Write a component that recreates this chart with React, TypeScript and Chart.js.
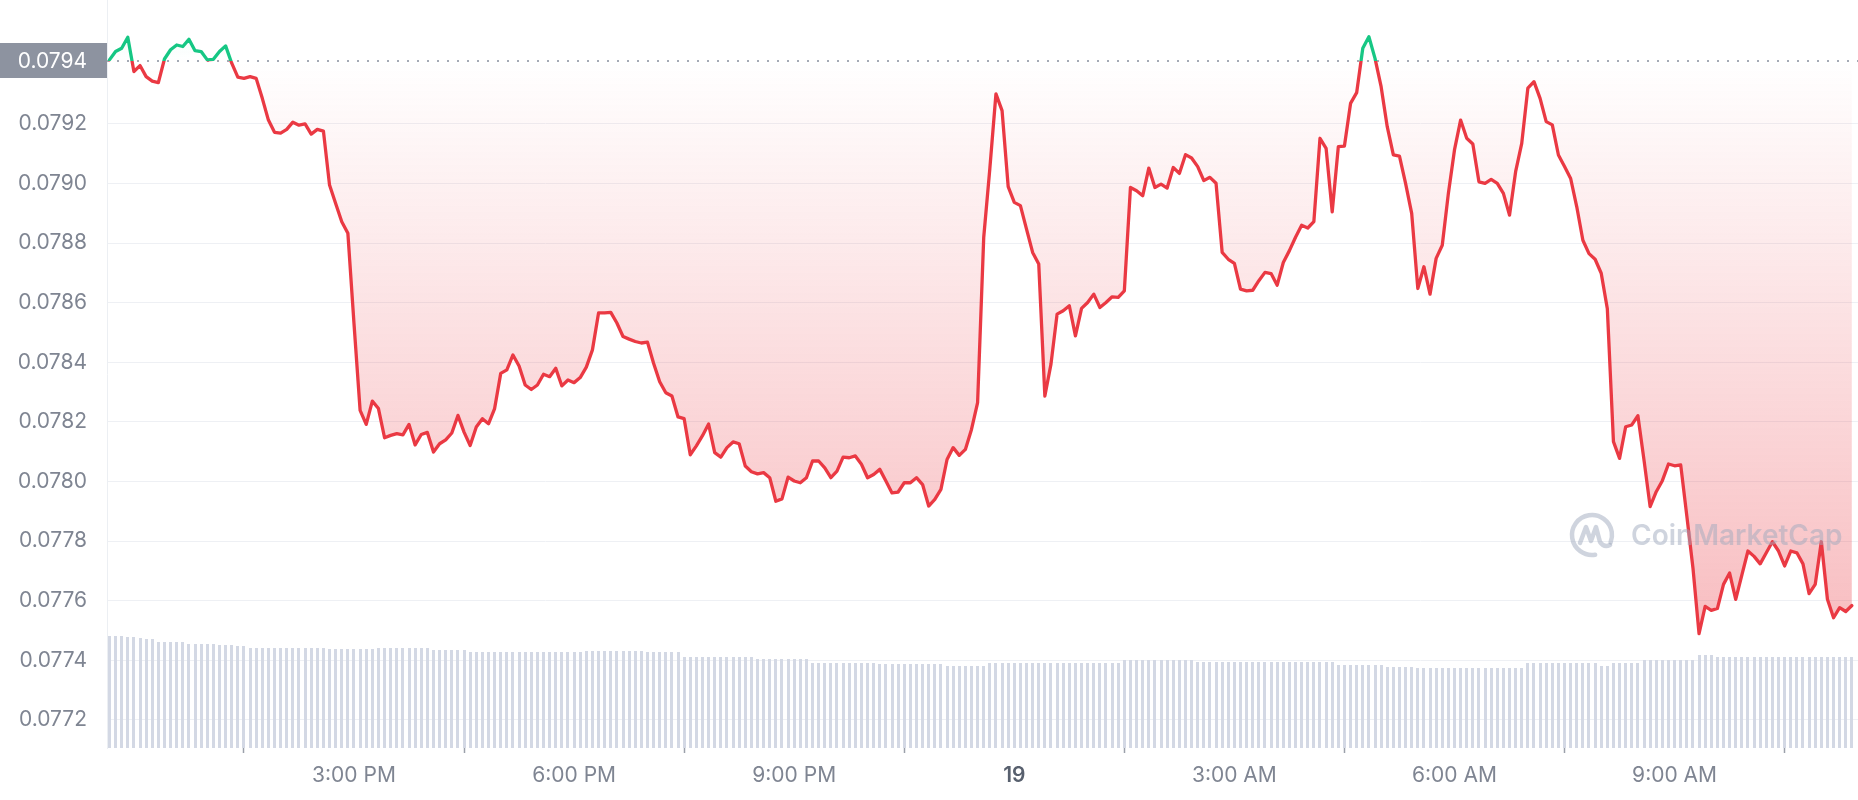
import React, { useEffect, useRef } from 'react';
import { Chart, registerables } from 'chart.js';

Chart.register(...registerables);

// time of first sample: minutes since midnight of the 18th (11:40), 5-minute samples
const startMinute = 700;
const stepMinutes = 5;
const openPrice = 0.079412;

const prices = [
  0.079415, 0.079443, 0.079454, 0.079491, 0.079376, 0.079396, 0.079359, 0.079344, 0.079339, 0.079418,
  0.079449, 0.079465, 0.07946, 0.079484, 0.079446, 0.079443, 0.079415, 0.079417, 0.079443, 0.079462,
  0.079404, 0.079357, 0.079353, 0.079359, 0.079353, 0.079286, 0.079213, 0.079172, 0.079169, 0.079182,
  0.079206, 0.079196, 0.0792, 0.079166, 0.079182, 0.079176, 0.078995, 0.078933, 0.078872, 0.078833,
  0.07853, 0.078239, 0.078192, 0.07827, 0.078245, 0.078147, 0.078155, 0.078161, 0.078157, 0.078192,
  0.078123, 0.078158, 0.078165, 0.078099, 0.078127, 0.07814, 0.078163, 0.078222, 0.078166, 0.078121,
  0.078183, 0.078211, 0.078194, 0.078245, 0.078363, 0.078375, 0.078425, 0.078388, 0.078324, 0.078309,
  0.078324, 0.07836, 0.078352, 0.07838, 0.078321, 0.078341, 0.078332, 0.078349, 0.078384, 0.078442,
  0.078566, 0.078566, 0.078568, 0.078532, 0.078487, 0.078478, 0.07847, 0.078465, 0.078468, 0.078397,
  0.078335, 0.078298, 0.078287, 0.078217, 0.078211, 0.07809, 0.07812, 0.078154, 0.078193, 0.078097,
  0.078082, 0.078114, 0.078133, 0.078127, 0.078052, 0.078033, 0.078026, 0.07803, 0.078013, 0.077934,
  0.077942, 0.078015, 0.078002, 0.077996, 0.078013, 0.078069, 0.078069, 0.078046, 0.078013, 0.078035,
  0.078082, 0.07808, 0.078086, 0.078058, 0.078013, 0.078024, 0.078041, 0.078002, 0.077962, 0.077965,
  0.077996, 0.077996, 0.078013, 0.07799, 0.077918, 0.07794, 0.077974, 0.078074, 0.078114, 0.078088,
  0.078108, 0.078175, 0.078265, 0.078819, 0.07905, 0.079301, 0.079245, 0.07899, 0.078937, 0.078926,
  0.078847, 0.078769, 0.07873, 0.078287, 0.078394, 0.078562, 0.078573, 0.07859, 0.078489, 0.078581,
  0.078601, 0.078629, 0.078584, 0.078601, 0.07862, 0.078618, 0.07864, 0.078987, 0.078976, 0.078959,
  0.079052, 0.078987, 0.078998, 0.078985, 0.079054, 0.079034, 0.079097, 0.079086, 0.079057, 0.07901,
  0.079021, 0.079001, 0.078769, 0.078746, 0.078732, 0.078646, 0.07864, 0.078642, 0.078674, 0.078702,
  0.078698, 0.078659, 0.078735, 0.078775, 0.07882, 0.07886, 0.078851, 0.078872, 0.079152, 0.079118,
  0.078905, 0.079124, 0.079126, 0.079269, 0.079305, 0.079454, 0.079493, 0.07942, 0.079325, 0.079191,
  0.079096, 0.079092, 0.079001, 0.0789, 0.078648, 0.078721, 0.078629, 0.078749, 0.078793, 0.078967,
  0.079113, 0.079213, 0.079152, 0.079133, 0.079006, 0.079001, 0.079014, 0.079001, 0.078967, 0.078894,
  0.07904, 0.079135, 0.07932, 0.079342, 0.079286, 0.079208, 0.079197, 0.079096, 0.079057, 0.079017,
  0.078922, 0.07881, 0.078765, 0.078746, 0.078699, 0.07858, 0.078134, 0.078078, 0.078184, 0.07819,
  0.078221, 0.078072, 0.077916, 0.077966, 0.078003, 0.078059, 0.078053, 0.078056, 0.077885, 0.077711,
  0.07749, 0.077581, 0.077568, 0.077574, 0.077655, 0.077693, 0.077605, 0.077686, 0.077767, 0.077749,
  0.077724, 0.077761, 0.077798, 0.077767, 0.077717, 0.077767, 0.077761, 0.077724, 0.077624, 0.077655,
  0.077798, 0.077605, 0.077543, 0.077577, 0.077564, 0.077584,
];

// 24h volume (millions USD) per sample
const volumes = [
  11.2, 11.2, 11.2, 11.1, 11.1, 11.0, 10.9, 10.9, 10.6, 10.6,
  10.6, 10.6, 10.6, 10.4, 10.4, 10.4, 10.4, 10.4, 10.3, 10.3,
  10.3, 10.2, 10.2, 10.0, 10.0, 10.0, 10.0, 10.0, 10.0, 10.0,
  10.0, 10.0, 10.0, 10.0, 10.0, 10.0, 9.9, 9.9, 9.9, 9.9,
  9.9, 9.9, 9.9, 9.9, 10.0, 10.0, 10.0, 10.0, 10.0, 10.0,
  10.0, 10.0, 10.0, 9.8, 9.8, 9.8, 9.8, 9.8, 9.8, 9.6,
  9.6, 9.6, 9.6, 9.6, 9.6, 9.6, 9.6, 9.6, 9.6, 9.6,
  9.6, 9.6, 9.6, 9.6, 9.6, 9.6, 9.6, 9.6, 9.7, 9.7,
  9.7, 9.7, 9.7, 9.7, 9.7, 9.7, 9.7, 9.7, 9.6, 9.6,
  9.6, 9.6, 9.6, 9.6, 9.1, 9.1, 9.1, 9.1, 9.1, 9.1,
  9.1, 9.1, 9.1, 9.1, 9.1, 9.1, 8.9, 8.9, 8.9, 8.9,
  8.9, 8.9, 8.9, 8.9, 8.9, 8.5, 8.5, 8.5, 8.5, 8.5,
  8.5, 8.5, 8.5, 8.5, 8.5, 8.5, 8.4, 8.4, 8.4, 8.4,
  8.4, 8.4, 8.4, 8.4, 8.4, 8.4, 8.4, 8.2, 8.2, 8.2,
  8.2, 8.2, 8.2, 8.2, 8.5, 8.5, 8.5, 8.5, 8.5, 8.5,
  8.5, 8.5, 8.5, 8.5, 8.5, 8.5, 8.5, 8.5, 8.5, 8.5,
  8.5, 8.5, 8.5, 8.5, 8.5, 8.5, 8.8, 8.8, 8.8, 8.8,
  8.8, 8.8, 8.8, 8.8, 8.8, 8.8, 8.8, 8.8, 8.6, 8.6,
  8.6, 8.6, 8.6, 8.6, 8.6, 8.6, 8.6, 8.6, 8.6, 8.6,
  8.6, 8.6, 8.6, 8.6, 8.6, 8.6, 8.6, 8.6, 8.6, 8.6,
  8.6, 8.3, 8.3, 8.3, 8.3, 8.3, 8.3, 8.3, 8.3, 8.1,
  8.1, 8.1, 8.1, 8.1, 8.0, 8.0, 8.0, 8.0, 8.0, 8.0,
  8.0, 8.0, 8.0, 8.0, 8.0, 8.0, 8.0, 8.0, 8.0, 8.0,
  8.0, 8.0, 8.5, 8.5, 8.5, 8.5, 8.5, 8.5, 8.5, 8.5,
  8.5, 8.5, 8.5, 8.5, 8.2, 8.2, 8.5, 8.5, 8.5, 8.5,
  8.5, 8.8, 8.8, 8.8, 8.8, 8.8, 8.8, 8.8, 8.8, 8.8,
  9.3, 9.3, 9.3, 9.1, 9.1, 9.1, 9.1, 9.1, 9.1, 9.1,
  9.1, 9.1, 9.1, 9.1, 9.1, 9.1, 9.1, 9.1, 9.1, 9.1,
  9.1, 9.1, 9.1, 9.1, 9.1, 9.1,
];

const xTickMinutes = [900, 1080, 1260, 1440, 1620, 1800, 1980];
const xTickLabels = ['3:00 PM', '6:00 PM', '9:00 PM', '19', '3:00 AM', '6:00 AM', '9:00 AM'];
const yTickValues = [0.0772, 0.0774, 0.0776, 0.0778, 0.078, 0.0782, 0.0784, 0.0786, 0.0788, 0.079, 0.0792];

const xMin = 698;
const xMax = 2130;
const yMin = 0.077106;
const yMax = 0.079616;
const volMax = 74.8;

const FONT = 'Inter, "Noto Sans", sans-serif';
const GREEN = '#16c784';
const RED = '#ea3943';
const LABEL = '#7f8592';

function clamp01(v: number) {
  return Math.max(0, Math.min(1, v));
}

export default function App() {
  const ref = useRef<HTMLCanvasElement>(null);

  useEffect(() => {
    const canvas = ref.current;
    if (!canvas) return;

    const times = prices.map((_, i) => startMinute + i * stepMinutes);
    const priceData = prices.map((v, i) => ({ x: times[i], y: v }));
    const volData = volumes.map((v, i) => ({ x: times[i], y: v }));

    const splitAt = (chart: any) => {
      const a = chart.chartArea;
      const py = chart.scales.y.getPixelForValue(openPrice);
      return clamp01((py - a.top) / (a.bottom - a.top));
    };

    const strokeGradient = (c: any) => {
      const chart = c.chart;
      const a = chart.chartArea;
      if (!a || !chart.scales || !chart.scales.y) return RED;
      const p = splitAt(chart);
      const g = chart.ctx.createLinearGradient(0, a.top, 0, a.bottom);
      g.addColorStop(0, GREEN);
      g.addColorStop(p, GREEN);
      g.addColorStop(p, RED);
      g.addColorStop(1, RED);
      return g;
    };

    const fillGradient = (c: any) => {
      const chart = c.chart;
      const a = chart.chartArea;
      if (!a || !chart.scales || !chart.scales.y) return 'rgba(234,57,67,0.15)';
      const p = splitAt(chart);
      const g = chart.ctx.createLinearGradient(0, a.top, 0, a.bottom);
      g.addColorStop(0, 'rgba(22,199,132,0.10)');
      g.addColorStop(p, 'rgba(22,199,132,0.0)');
      g.addColorStop(p, 'rgba(234,57,67,0.0)');
      g.addColorStop(1, 'rgba(234,57,67,0.40)');
      return g;
    };

    const overlay = {
      id: 'overlay',
      afterDatasetsUpdate(chart: any) {
        // pixel-snap the thin volume bars so they render evenly
        const meta = chart.getDatasetMeta(1);
        meta.data.forEach((el: any) => {
          el.x = Math.round(el.x - 0.5) + 0.5;
          el.width = 3;
        });
      },
      beforeDatasetsDraw(chart: any) {
        const { ctx, chartArea: a } = chart;
        const y = Math.round(chart.scales.y.getPixelForValue(openPrice));
        ctx.save();
        ctx.strokeStyle = '#a4aab5';
        ctx.lineWidth = 2;
        ctx.setLineDash([2, 8]);
        ctx.beginPath();
        ctx.moveTo(a.left, y);
        ctx.lineTo(a.right, y);
        ctx.stroke();
        ctx.restore();
      },
      afterDatasetsDraw(chart: any) {
        const { ctx, chartArea: a } = chart;
        const cx = a.right - 266;
        const cy = a.bottom - 213;
        const col = 'rgba(160,170,190,0.5)';
        ctx.save();
        ctx.strokeStyle = col;
        ctx.lineWidth = 4.5;
        ctx.lineCap = 'round';
        ctx.lineJoin = 'round';
        ctx.beginPath();
        ctx.arc(cx, cy, 20, 0.45 * Math.PI, 2.12 * Math.PI);
        ctx.stroke();
        ctx.beginPath();
        ctx.moveTo(cx - 12, cy + 8);
        ctx.lineTo(cx - 6, cy - 8);
        ctx.lineTo(cx - 1, cy + 6);
        ctx.lineTo(cx + 4, cy - 8);
        ctx.lineTo(cx + 8, cy + 7);
        ctx.quadraticCurveTo(cx + 12, cy + 13, cx + 18, cy + 10);
        ctx.stroke();
        ctx.fillStyle = col;
        ctx.font = `600 28px ${FONT}`;
        ctx.textAlign = 'left';
        ctx.textBaseline = 'middle';
        ctx.fillText('CoinMarketCap', cx + 39, cy + 2);
        ctx.restore();
      },
      afterDraw(chart: any) {
        const { ctx, chartArea: a } = chart;
        const y = chart.scales.y.getPixelForValue(openPrice);
        ctx.save();
        ctx.fillStyle = '#8d93a0';
        ctx.fillRect(0, Math.round(y - 17.5), a.left, 35);
        ctx.fillStyle = '#ffffff';
        ctx.font = `400 21px ${FONT}`;
        ctx.textAlign = 'right';
        ctx.textBaseline = 'middle';
        ctx.fillText(openPrice.toFixed(4), a.left - 20, y + 1);
        ctx.restore();
      },
    };

    const chart = new Chart(canvas, {
      type: 'line',
      data: {
        datasets: [
          {
            type: 'line',
            data: priceData,
            xAxisID: 'x',
            yAxisID: 'y',
            borderColor: strokeGradient,
            backgroundColor: fillGradient,
            borderWidth: 3.3,
            pointRadius: 0,
            tension: 0,
            borderJoinStyle: 'round',
            borderCapStyle: 'round',
            fill: { value: openPrice },
            order: 0,
          } as any,
          {
            type: 'bar',
            data: volData,
            xAxisID: 'x',
            yAxisID: 'yv',
            backgroundColor: '#d3d8e4',
            barPercentage: 0.5,
            categoryPercentage: 1,
            order: 1,
          } as any,
        ],
      },
      options: {
        animation: false,
        responsive: false,
        devicePixelRatio: 1,
        events: [],
        layout: { padding: 0 },
        plugins: {
          legend: { display: false },
          tooltip: { enabled: false },
        },
        scales: {
          x: {
            type: 'linear',
            min: xMin,
            max: xMax,
            offset: false,
            afterBuildTicks: (s: any) => {
              s.ticks = xTickMinutes.map((v) => ({ value: v }));
            },
            afterFit: (s: any) => {
              s.height = 52;
              s.paddingLeft = 0;
              s.paddingRight = 0;
            },
            border: { display: false },
            grid: {
              drawOnChartArea: false,
              drawTicks: true,
              tickLength: 5,
              tickWidth: 1.5,
              tickColor: '#9ba0aa',
            },
            ticks: {
              autoSkip: false,
              maxRotation: 0,
              padding: 10,
              callback: (_v: any, i: number) => xTickLabels[i],
              font: (c: any) => ({ family: FONT, size: 21, weight: c.index === 3 ? '600' : '400' }),
              color: (c: any) => (c.index === 3 ? '#58606e' : LABEL),
            },
          } as any,
          y: {
            type: 'linear',
            position: 'left',
            min: yMin,
            max: yMax,
            afterBuildTicks: (s: any) => {
              s.ticks = yTickValues.map((v) => ({ value: v }));
            },
            afterFit: (s: any) => {
              s.width = 107;
              s.paddingTop = 0;
              s.paddingBottom = 0;
            },
            border: { display: true, color: '#eceff3', width: 1 },
            grid: { color: '#eef0f4', lineWidth: 1, drawTicks: false },
            ticks: {
              padding: 20,
              callback: (v: any) => Number(v).toFixed(4),
              font: { family: FONT, size: 21, weight: '400' },
              color: LABEL,
            },
          } as any,
          yv: {
            type: 'linear',
            display: false,
            min: 0,
            max: volMax,
          },
        },
      },
      plugins: [overlay],
    } as any);

    return () => chart.destroy();
  }, []);

  return (
    <div style={{ position: 'fixed', left: 0, top: 0, width: 1858, height: 800, background: '#ffffff' }}>
      <canvas ref={ref} width={1858} height={800} style={{ display: 'block', width: 1858, height: 800 }} />
    </div>
  );
}
